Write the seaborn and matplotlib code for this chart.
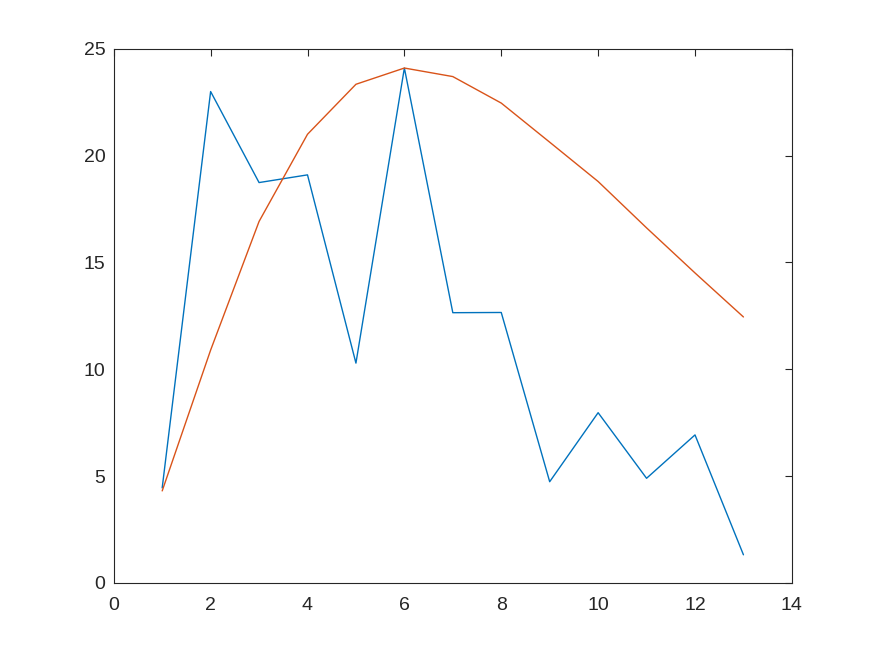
import matplotlib
matplotlib.use("Agg")
import matplotlib.pyplot as plt
import seaborn as sns
import pandas as pd

# values
x = [1, 2, 3, 4, 5, 6, 7, 8, 9, 10, 11, 12, 13]
blue_vals = [4.45, 23.0, 18.74, 19.1, 10.29, 24.1, 12.65, 12.66, 4.74, 7.97, 4.9, 6.93, 1.32]
orange_vals = [4.31, 10.9, 16.92, 21.0, 23.34, 24.1, 23.7, 22.46, 20.63, 18.79, 16.62, 14.51, 12.45]
x_ticks = [0, 2, 4, 6, 8, 10, 12, 14]
y_ticks = [0, 5, 10, 15, 20, 25]

sns.set_style("white")
plt.rcParams['font.family'] = ['Liberation Sans', 'DejaVu Sans']

df = pd.DataFrame({'x': x + x,
                   'y': blue_vals + orange_vals,
                   'series': ['a'] * len(x) + ['b'] * len(x)})

fig = plt.figure(figsize=(8.75, 6.56), dpi=100)
ax = fig.add_axes([0.13, 0.1113, 0.775, 0.8143])
sns.lineplot(data=df, x='x', y='y', hue='series',
             palette=['#0072BD', '#D95319'], linewidth=1.0,
             legend=False, ax=ax)

ax.set_xlim(0, 14)
ax.set_ylim(0, 25)
ax.set_xticks(x_ticks)
ax.set_yticks(y_ticks)
ax.set_xlabel('')
ax.set_ylabel('')
ax.tick_params(direction='in', length=5, width=0.8, colors='#262626',
               labelsize=14, top=True, right=True, pad=10)
ax.tick_params(axis='y', pad=6)
for s in ax.spines.values():
    s.set_visible(True)
    s.set_color('#262626')
    s.set_linewidth(0.8)

fig.savefig('out.png', dpi=100)
